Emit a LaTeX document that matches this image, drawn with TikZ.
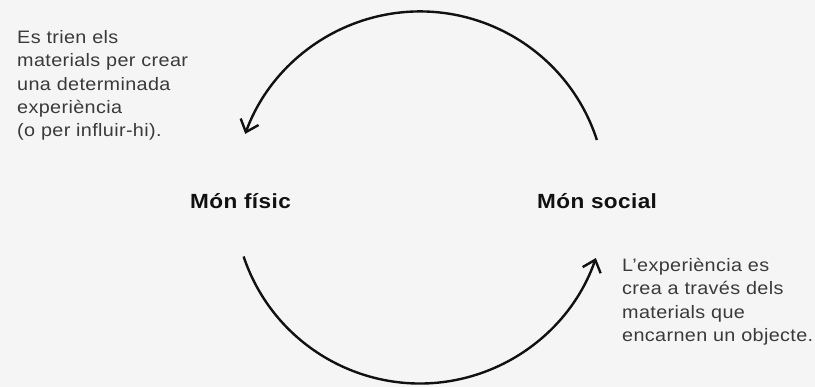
\documentclass[tikz,border=0pt]{standalone}
\usepackage{fontspec}
\setmainfont{Liberation Sans}[FakeStretch=1.1,LetterSpace=2]
\usetikzlibrary{arrows.meta}
\definecolor{bg}{HTML}{F5F5F5}
\definecolor{note}{HTML}{3A3A3A}
\definecolor{ink}{HTML}{111111}
\begin{document}
\begin{tikzpicture}[x=1pt,y=-1pt,
  cycle/.style={line width=2.4pt,draw=ink,-{Straight Barb[length=11pt,width=19pt,line width=2.4pt]}},
  notetext/.style={inner sep=0pt,align=left,text=note,font=\fontsize{18}{23.4}\selectfont},
  worldlabel/.style={inner sep=0pt,text=ink,font=\fontsize{20.5}{22}\selectfont\bfseries}]
\fill[bg] (0,0) rectangle (815,387);
\useasboundingbox (0,0) rectangle (815,387);
% circle centre (420,197.5), radius 186
\coordinate (topstart) at (596.9,140.0);
\coordinate (botstart) at (243.6,256.5);
\node[notetext,anchor=north west] (noteL) at (17,30) {Es trien els\\materials per crear\\una determinada\\experiència\\(o per influir-hi).};
\node[notetext,anchor=north west] (noteR) at (622,258) {L’experiència es\\crea a través dels\\materials que\\encarnen un objecte.};
\node[worldlabel,anchor=base west] (fisic) at (190,208.3) {Món físic};
\node[worldlabel,anchor=base west] (social) at (537,208.3) {Món social};
\draw[cycle] (topstart) arc[start angle=-18,end angle=-160,radius=186];
\draw[cycle] (botstart) arc[start angle=161.5,end angle=19,radius=186];
\end{tikzpicture}
\end{document}
